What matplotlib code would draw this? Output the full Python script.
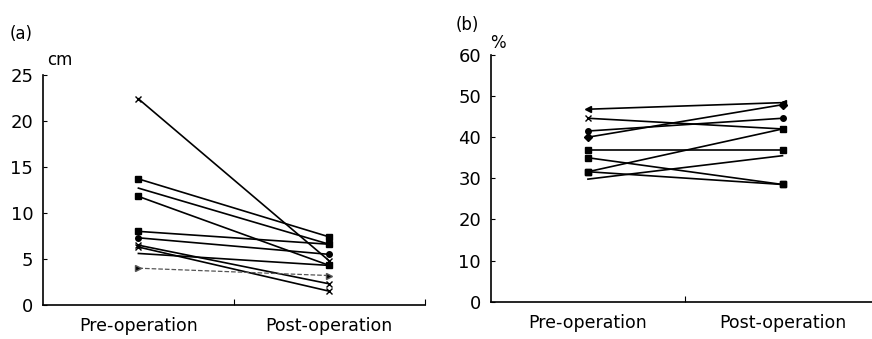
import matplotlib.pyplot as plt
from matplotlib.ticker import FixedLocator

# (a) length, cm
pre_a = [22.4, 13.7, 12.7, 11.8, 8.0, 7.3, 6.5, 6.3, 5.6, 4.0]
post_a = [4.8, 7.4, 6.6, 4.3, 6.6, 5.5, 2.3, 1.5, 4.3, 3.2]
mk_a = ['x', 's', '', 's', 's', 'o', 'x', 'x', '', '>']
ls_a = ['-', '-', '-', '-', '-', '-', '-', '-', '-', '--']

# (b) percent
pre_b = [46.8, 44.6, 41.5, 40.0, 37.0, 35.0, 31.6, 31.6, 29.8]
post_b = [48.4, 42.0, 44.6, 47.9, 37.0, 28.5, 42.0, 28.5, 35.5]
mk_b = ['<', 'x', 'o', 'D', 's', 's', 's', 's', '']

groups = ['Pre-operation', 'Post-operation']
xpos = [1, 3]

plt.rcParams['font.family'] = 'DejaVu Sans'
fig = plt.figure(figsize=(8.72, 3.39), dpi=100)
ax_a = fig.add_axes([0.0493, 0.1003, 0.4377, 0.6787])
ax_b = fig.add_axes([0.5627, 0.110, 0.4373, 0.728])


def style(ax, ymax, ystep, xmax):
    ax.set_xlim(0, xmax)
    ax.set_ylim(0, ymax)
    ax.spines['top'].set_visible(False)
    ax.spines['right'].set_visible(False)
    ax.set_yticks(range(0, ymax + 1, ystep))
    ax.xaxis.set_major_locator(FixedLocator([2, 4]))
    ax.xaxis.set_minor_locator(FixedLocator(xpos))
    ax.set_xticklabels([], minor=False)
    ax.set_xticklabels(groups, minor=True)
    ax.tick_params(axis='x', which='major', direction='in', length=4)
    ax.tick_params(axis='x', which='minor', length=0, pad=9, labelsize=12.5)
    ax.tick_params(axis='y', direction='in', length=3, labelsize=13, pad=7)
    for s in ax.spines.values():
        s.set_linewidth(1.2)


style(ax_a, 25, 5, 4)
style(ax_b, 60, 10, 3.92)

for p, q, m, l in zip(pre_a, post_a, mk_a, ls_a):
    ax_a.plot(xpos, [p, q], color='black' if l == '-' else '#555555',
              lw=1.2 if l == '-' else 0.9, ls=l,
              marker=m if m else None, ms=4, mfc='black', mew=1.0)

for p, q, m in zip(pre_b, post_b, mk_b):
    ax_b.plot(xpos, [p, q], color='black', lw=1.2,
              marker=m if m else None, ms=4, mfc='black', mew=1.0)

fig.text(0.011, 0.90, '(a)', fontsize=12, va='center')
fig.text(0.054, 0.823, 'cm', fontsize=12, va='center')
fig.text(0.522, 0.925, '(b)', fontsize=12, va='center')
fig.text(0.562, 0.872, '%', fontsize=12, va='center')

fig.savefig('out.png', dpi=100)
